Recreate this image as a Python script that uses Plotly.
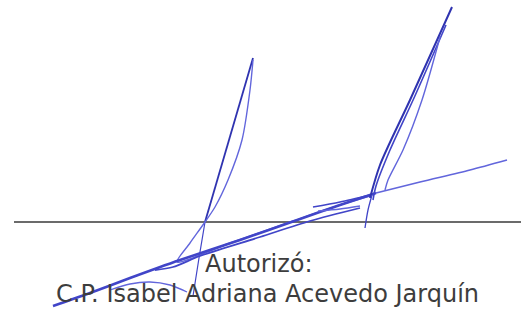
import plotly.graph_objects as go

# Canvas size (pixel coordinates, y grows downward)
W, H = 521, 309

# Signature line
line_x = [14, 521]
line_y = [222, 222]

# Signature strokes
stroke_A_left_x = [253, 229, 205]
stroke_A_left_y = [58, 140, 222]
stroke_A_tail_x = [205, 199, 193]
stroke_A_tail_y = [222, 258, 296]

stroke_A_right_x = [253, 250, 242, 228, 215, 205, 190, 177, 230, 293, 340, 370]
stroke_A_right_y = [60, 90, 140, 180, 207, 222, 243, 262, 243, 221, 205, 196]

main_diag_x = [53, 90, 130, 180, 240, 300, 340, 376]
main_diag_y = [306, 293, 278, 260, 240, 219, 205, 193]

diag_ext_x = [376, 420, 470, 507]
diag_ext_y = [193, 182, 170, 160]

second_diag_x = [155, 173, 200, 260, 310, 360]
second_diag_y = [270, 267, 256, 237, 221, 208]

short1_x = [313, 340, 370]
short1_y = [207, 202, 195]
short2_x = [318, 340, 360]
short2_y = [211, 209, 206]

curve_x = [110, 130, 150, 170, 187]
curve_y = [290, 284, 282, 285, 292]

stroke_B1_x = [452, 410, 380, 370]
stroke_B1_y = [7, 100, 165, 198]
stroke_B2_x = [446, 414, 390, 376, 373]
stroke_B2_y = [25, 98, 150, 186, 200]
stroke_B3_x = [440, 422, 403, 388, 385]
stroke_B3_y = [37, 100, 150, 180, 190]
stroke_B_tail_x = [372, 368, 365]
stroke_B_tail_y = [195, 210, 228]

DARK = "#2f33b0"
MID = "#4145c8"
LIGHT = "#6266dc"

strokes = [
    (stroke_A_left_x, stroke_A_left_y, DARK, 1.8),
    (stroke_A_tail_x, stroke_A_tail_y, MID, 1.2),
    (stroke_A_right_x, stroke_A_right_y, LIGHT, 1.4),
    (main_diag_x, main_diag_y, MID, 2.6),
    (diag_ext_x, diag_ext_y, LIGHT, 1.6),
    (second_diag_x, second_diag_y, MID, 1.8),
    (short1_x, short1_y, MID, 1.6),
    (short2_x, short2_y, LIGHT, 1.4),
    (curve_x, curve_y, LIGHT, 1.3),
    (stroke_B1_x, stroke_B1_y, DARK, 2.0),
    (stroke_B2_x, stroke_B2_y, MID, 1.6),
    (stroke_B3_x, stroke_B3_y, LIGHT, 1.4),
    (stroke_B_tail_x, stroke_B_tail_y, MID, 1.3),
]

labels = ["Autorizó:", "C.P. Isabel Adriana Acevedo Jarquín"]
label_x = [259, 267]
label_y = [264, 294]

fig = go.Figure()
fig.add_trace(go.Scatter(x=line_x, y=line_y, mode="lines",
                         line=dict(color="#3a3a3a", width=1.6), hoverinfo="skip"))

for sx, sy, col, wd in strokes:
    fig.add_trace(go.Scatter(x=sx, y=sy, mode="lines",
                             line=dict(color=col, width=wd, shape="spline", smoothing=0.8),
                             hoverinfo="skip"))

for t, x, y in zip(labels, label_x, label_y):
    fig.add_annotation(x=x, y=y, text=t, showarrow=False, xanchor="center", yanchor="middle",
                       font=dict(family="DejaVu Sans", size=24, color="#3d3d3d"))

fig.update_layout(
    width=W, height=H, margin=dict(l=0, r=0, t=0, b=0),
    paper_bgcolor="white", plot_bgcolor="white", showlegend=False,
    xaxis=dict(range=[0, W], visible=False, fixedrange=True),
    yaxis=dict(range=[H, 0], visible=False, fixedrange=True),
)
fig.write_html("out.html", config={"displayModeBar": False},
               post_script="document.body.style.margin='0';document.body.style.overflow='hidden';")
